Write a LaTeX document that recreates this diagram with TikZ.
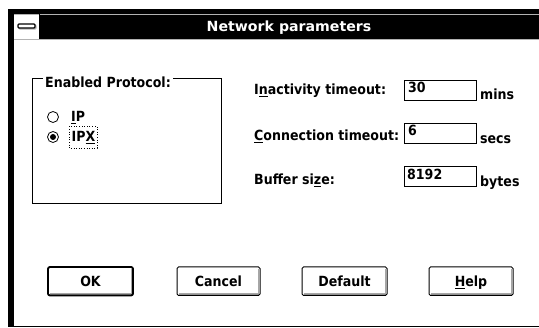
\documentclass[tikz,border=0pt]{standalone}
\usepackage{fontspec}
\newfontfamily\sysfont{DejaVu Sans}[FakeStretch=0.9]
\newfontfamily\titlefont{DejaVu Sans}[FakeStretch=1.01]
\newcommand{\ul}[1]{\underline{#1}}
\begin{document}
\begin{tikzpicture}[x=1pt,y=-1pt,
  txt/.style={font=\sysfont\bfseries\fontsize{14}{16}\selectfont,inner sep=0pt},
  btn/.style={draw=black,line width=1pt,rounded corners=1.5pt,fill=white},
  editbox/.style={draw=black,line width=0.9pt},
  shade/.style={draw=gray!70,line width=1.6pt}]
\useasboundingbox (0,0) rectangle (539,328);
\fill[white] (0,0) rectangle (539,328);
% window frame
\fill[black] (8,9) rectangle (539,14);
\fill[black] (8,9) rectangle (14,326.5);
\draw[line width=0.9pt] (8,326) -- (539,326);
\fill[black] (39,14) rectangle (539,39);
\draw[gray!60,line width=0.7pt] (14,14.6) -- (539,14.6);
\draw[gray!60,line width=0.7pt] (14,39.4) -- (539,39.4);
\draw[black,line width=0.5pt] (39,14) -- (39,39);
% system menu box
\fill[white] (14,15) rectangle (38.6,39);
\draw[gray!60,line width=1.2pt,rounded corners=1pt] (19,25) rectangle (36,29);
\draw[black,line width=1.2pt,rounded corners=1pt,fill=white] (18,24) rectangle (35,28);
\node[inner sep=0pt,text=white,anchor=base,font=\titlefont\bfseries\fontsize{14}{16}\selectfont] (title) at (289,32) {Network parameters};
% group box
\draw[line width=0.8pt] (32,78) rectangle (221,203);
\node[txt,anchor=base west,fill=white,inner xsep=2pt,inner ysep=1pt] (grp) at (43,88) {Enabled Protocol:};
\draw[line width=0.8pt] (53,117) circle (5.5);
\draw[line width=0.8pt] (53,137) circle (5.5);
\fill (53,137) circle (3);
\node[txt,anchor=base west] (ip) at (71,122) {\ul{I}P};
\node[txt,anchor=base west] (ipx) at (71.5,142) {IP\ul{X}};
\draw[dotted,line width=0.6pt] (69,126.5) rectangle (97,148);
% right fields
\node[txt,anchor=base west] (l1) at (254,95) {I\ul{n}activity timeout:};
\node[txt,anchor=base west] (l2) at (254,141) {\ul{C}onnection timeout:};
\node[txt,anchor=base west] (l3) at (254,185) {Buffer si\ul{z}e:};
\draw[editbox] (404,80) rectangle (476,100);
\draw[editbox] (404,123) rectangle (476,143);
\draw[editbox] (404,166) rectangle (476,186);
\node[txt,anchor=base west] (v1) at (408,93) {30};
\node[txt,anchor=base west] (v2) at (408,136) {6};
\node[txt,anchor=base west] (v3) at (407,180) {8192};
\node[txt,anchor=base west] (u1) at (480,100) {mins};
\node[txt,anchor=base west] (u2) at (480,144) {secs};
\node[txt,anchor=base west] (u3) at (480,187) {bytes};
% buttons
\foreach \xa/\xb/\nm/\lab in {48/133/ok/OK,177/260/cancel/Cancel,302/387/default/Default,429/513/help/{\ul{H}elp}}{
  \draw[shade] (\xa+2,294) -- (\xb-1.5,294) -- (\xb-1.5,269);
  \draw[btn,fill=none] (\xa,267) rectangle (\xb,295.5);
  \node[txt,anchor=base] (\nm) at ({(\xa+\xb)/2},286.5) {\lab};
}
\draw[line width=1.8pt,rounded corners=2pt] (48,267) rectangle (133,295.5);
\end{tikzpicture}
\end{document}
